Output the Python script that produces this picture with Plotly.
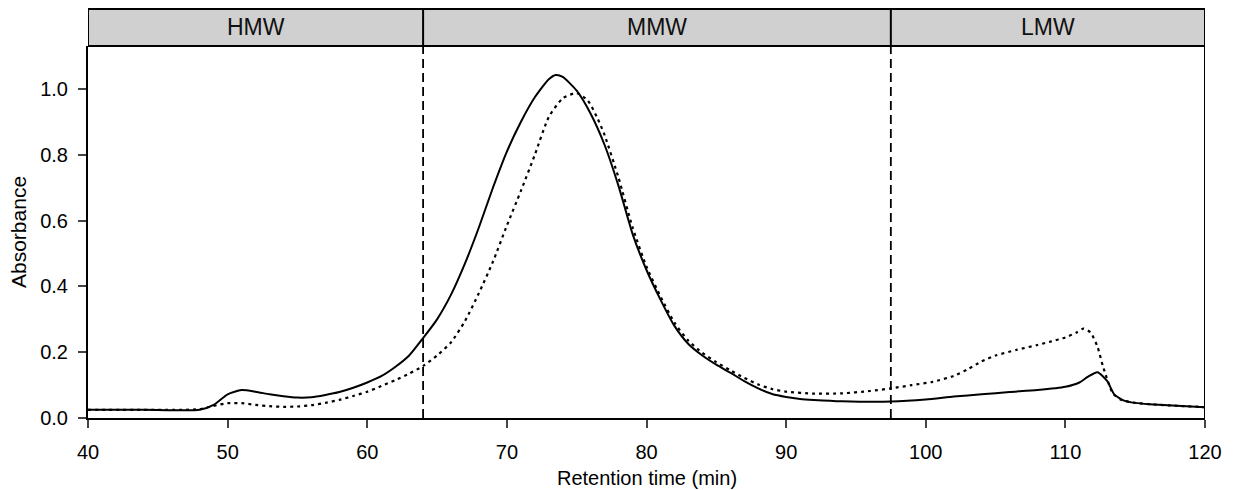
import plotly.graph_objects as go

# ---- data ----
t_solid = [40, 44, 48, 49, 50, 51, 52, 53, 54, 55, 56, 57, 58, 59, 60, 61, 62, 63, 64,
           65, 66, 67, 68, 69, 70, 71, 72, 73, 73.5, 74, 75, 76, 77, 78, 79, 80, 81, 82,
           83, 84, 85, 86, 87, 88, 89, 90, 91, 92, 94, 97.5, 100, 102, 104, 106, 108,
           110, 111, 111.6, 112.3, 113, 113.5, 114.2, 115, 116, 118, 120]
a_solid = [0.025, 0.025, 0.025, 0.04, 0.072, 0.085, 0.08, 0.072, 0.066, 0.062, 0.063,
           0.07, 0.079, 0.092, 0.108, 0.127, 0.155, 0.19, 0.243,
           0.30, 0.375, 0.47, 0.58, 0.70, 0.81, 0.90, 0.975, 1.03, 1.043, 1.037, 0.995,
           0.925, 0.83, 0.705, 0.56, 0.45, 0.36, 0.28,
           0.225, 0.19, 0.162, 0.138, 0.112, 0.09, 0.073, 0.064, 0.058, 0.055, 0.051,
           0.05, 0.056, 0.065, 0.072, 0.079, 0.085,
           0.095, 0.108, 0.125, 0.139, 0.112, 0.072, 0.053, 0.046, 0.042, 0.037, 0.033]

t_dotted = [40, 47, 48, 49, 50, 51, 52, 53, 54, 55, 56, 57, 58, 59, 60, 61, 62, 63, 64,
            65, 66, 67, 68, 69, 70, 71, 72, 73, 74, 75, 75.8, 76.5, 77, 78, 79, 80, 81,
            82, 83, 84, 85, 86, 87, 88, 89, 90, 92, 94, 96, 97.5, 99, 100.5, 102, 103,
            104, 105, 106.5, 108, 109, 110, 110.8, 111.3, 111.8, 112.3, 112.7, 113.4,
            114, 115, 116, 118, 120]
a_dotted = [0.025, 0.025, 0.027, 0.037, 0.045, 0.045, 0.04, 0.036, 0.034, 0.035, 0.039,
            0.046, 0.055, 0.067, 0.08, 0.097, 0.115, 0.135, 0.158,
            0.19, 0.23, 0.295, 0.38, 0.475, 0.585, 0.69, 0.80, 0.915, 0.972, 0.988, 0.965,
            0.91, 0.86, 0.73, 0.58, 0.46, 0.37,
            0.29, 0.235, 0.198, 0.17, 0.145, 0.122, 0.102, 0.088, 0.08, 0.074, 0.075,
            0.082, 0.09, 0.1, 0.11, 0.128, 0.148,
            0.172, 0.19, 0.207, 0.222, 0.233, 0.245, 0.26, 0.272, 0.26, 0.217, 0.156,
            0.075, 0.055, 0.046, 0.042, 0.037, 0.033]

region_labels = ["HMW", "MMW", "LMW"]
region_bounds = [40, 64, 97.5, 120]

x_ticks = [40, 50, 60, 70, 80, 90, 100, 110, 120]
y_ticks = [0.0, 0.2, 0.4, 0.6, 0.8, 1.0]

x_title = "Retention time (min)"
y_title = "Absorbance"

FONT = "Liberation Sans, Arial, sans-serif"

fig = go.Figure()
fig.add_trace(go.Scatter(x=t_solid, y=a_solid, mode="lines",
                         line=dict(color="black", width=2, shape="spline", smoothing=0.6),
                         showlegend=False))
fig.add_trace(go.Scatter(x=t_dotted, y=a_dotted, mode="lines",
                         line=dict(color="black", width=2.2, dash="3px,4px",
                                   shape="spline", smoothing=0.6),
                         showlegend=False))

HEAD_TOP = 1.0995
shapes = []
# header band
shapes.append(dict(type="rect", xref="x", yref="paper", x0=region_bounds[0], x1=region_bounds[-1],
                   y0=1.0, y1=HEAD_TOP, fillcolor="#d0d0d0", line=dict(color="black", width=2),
                   layer="above"))
# dividers
for b in region_bounds[1:-1]:
    shapes.append(dict(type="line", xref="x", yref="paper", x0=b, x1=b, y0=1.0, y1=HEAD_TOP,
                       line=dict(color="black", width=2)))
    shapes.append(dict(type="line", xref="x", yref="paper", x0=b, x1=b, y0=0, y1=1.0,
                       line=dict(color="black", width=1.8, dash="9px,5px")))
# right border
shapes.append(dict(type="line", xref="x", yref="paper", x0=region_bounds[-1], x1=region_bounds[-1],
                   y0=0, y1=1.0, line=dict(color="black", width=2)))

annotations = []
for lab, a, b in zip(region_labels, region_bounds[:-1], region_bounds[1:]):
    annotations.append(dict(x=(a + b) / 2, y=(1.0 + HEAD_TOP) / 2, xref="x", yref="paper",
                            text=lab, showarrow=False, yanchor="middle",
                            font=dict(family=FONT, size=23, color="#111")))
# axis titles
annotations.append(dict(x=0.5, y=0, xref="paper", yref="paper", text=x_title,
                        showarrow=False, xanchor="center", yanchor="middle", yshift=-60,
                        font=dict(family=FONT, size=20, color="black")))
annotations.append(dict(x=0, y=0.5, xref="paper", yref="paper", text=y_title,
                        showarrow=False, xanchor="center", yanchor="middle", xshift=-70,
                        textangle=-90, font=dict(family=FONT, size=21, color="black")))

# the page body has an 8px margin, so the figure is sized and offset to compensate
fig.update_layout(
    width=1226, height=482,
    margin=dict(l=80, r=29, t=38, b=72),
    paper_bgcolor="white", plot_bgcolor="white",
    font=dict(family=FONT, size=20, color="black"),
    shapes=shapes, annotations=annotations,
    xaxis=dict(range=[40, 120], tickvals=x_ticks, ticks="outside", ticklen=8, tickwidth=2,
               showline=True, linewidth=2, linecolor="black", showgrid=False, zeroline=False,
               ticklabelstandoff=7, automargin=False, tickfont=dict(size=20)),
    yaxis=dict(range=[0, 1.131], tickvals=y_ticks, tickformat=".1f", ticks="outside",
               ticklen=8, tickwidth=2, showline=True, linewidth=2, linecolor="black",
               showgrid=False, zeroline=False, ticklabelstandoff=6, automargin=False,
               tickfont=dict(size=20)),
)

fig.write_html("out.html")
